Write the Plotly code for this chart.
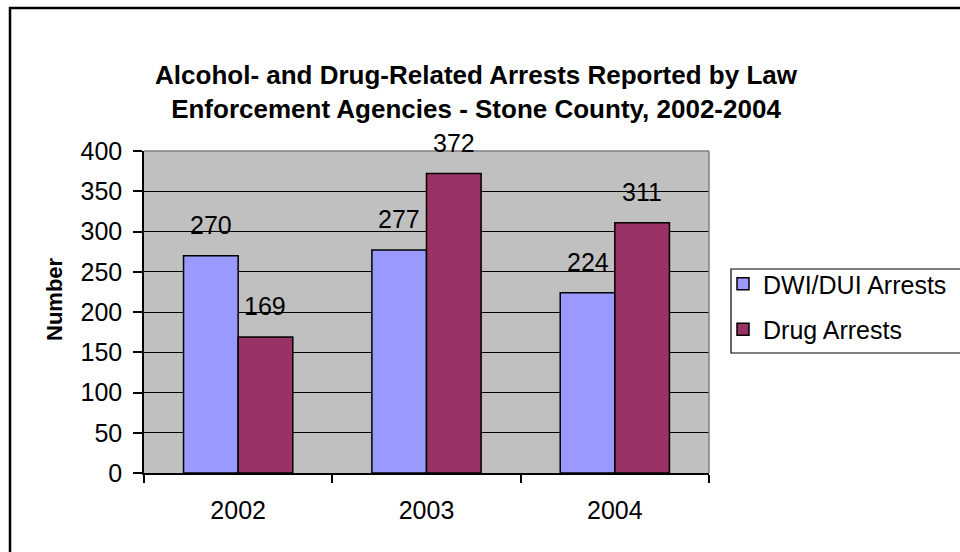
import plotly.graph_objects as go

# Arrest counts by year
years = ["2002", "2003", "2004"]
dwi_dui = [270, 277, 224]
drug = [169, 372, 311]
series_names = ["DWI/DUI Arrests", "Drug Arrests"]
y_ticks = [0, 50, 100, 150, 200, 250, 300, 350, 400]

FONT = "Liberation Sans, Arial, sans-serif"
W, H = 960, 552
L, R, T, B = 144, 251, 151, 79
PW, PH = W - L - R, H - T - B


def px_x(px):
    return (px - L) / PW


def px_y(py):
    return (H - B - py) / PH


fig = go.Figure()
colors = ["#9999FF", "#993366"]
for name, vals, col in zip(series_names, [dwi_dui, drug], colors):
    fig.add_trace(go.Bar(
        x=years, y=vals, name=name, legendgroup=name,
        marker=dict(color=col, line=dict(color="black", width=1.5)),
        hoverinfo="x+y+name",
    ))

# value labels above each bar (x given as category index)
BARGAP = 0.42
bar_px = PW / len(years) * (1 - BARGAP) / 2
annotations = []
for i, vals in enumerate([dwi_dui, drug]):
    shift = (-0.5 if i == 0 else 0.5) * bar_px
    for j, v in enumerate(vals):
        annotations.append(dict(
            x=j, y=v, xref="x", yref="y", text=str(v), showarrow=False,
            xshift=shift, yshift=15, yanchor="bottom",
            font=dict(family=FONT, size=25, color="black"),
        ))

annotations.append(dict(
    x=px_x(54), y=px_y(299), xref="paper", yref="paper", text="<b>Number</b>",
    textangle=-90, showarrow=False, xanchor="center", yanchor="middle",
    font=dict(family=FONT, size=22, color="black"),
))

shapes = [
    # outer chart frame
    dict(type="rect", xref="paper", yref="paper",
         x0=px_x(10), x1=px_x(985), y0=px_y(575), y1=px_y(8),
         line=dict(color="black", width=2.5), layer="below"),
    # plot area border (top and right)
    dict(type="line", xref="paper", yref="paper", x0=0, x1=1, y0=1, y1=1,
         line=dict(color="#808080", width=1.5), layer="above"),
    dict(type="line", xref="paper", yref="paper", x0=1, x1=1, y0=0, y1=1,
         line=dict(color="#808080", width=1.5), layer="above"),
    # legend box
    dict(type="rect", xref="paper", yref="paper",
         x0=px_x(731), x1=px_x(990), y0=px_y(353), y1=px_y(269),
         fillcolor="white", line=dict(color="black", width=1.2),
         layer="above"),
]

fig.update_layout(
    width=W, height=H,
    margin=dict(l=L, r=R, t=T, b=B, autoexpand=False),
    paper_bgcolor="white", plot_bgcolor="#C0C0C0",
    font=dict(family=FONT, size=25, color="black"),
    barmode="group", bargap=BARGAP, bargroupgap=0,
    title=dict(
        text="<b>Alcohol- and Drug-Related Arrests Reported by Law<br>"
             "Enforcement Agencies - Stone County, 2002-2004</b>",
        x=476 / W, xanchor="center", y=1 - 84 / H, yanchor="middle",
        font=dict(family=FONT, size=26, color="black"),
    ),
    xaxis=dict(
        type="category", range=[-0.5, len(years) - 0.5], automargin=False,
        showline=True, linecolor="black", linewidth=1.5,
        ticks="outside", ticklen=8, tickcolor="black", tickwidth=1.5,
        tickson="boundaries", ticklabelstandoff=14, showgrid=False,
        tickangle=0, tickfont=dict(family=FONT, size=25),
    ),
    yaxis=dict(
        range=[0, 400], tickvals=y_ticks, automargin=False,
        showline=True, linecolor="black",
        linewidth=1.5, ticks="outside", ticklen=9, tickcolor="black",
        tickwidth=1.5, showgrid=True, gridcolor="black", gridwidth=1,
        zeroline=False, ticklabelstandoff=6,
        tickfont=dict(family=FONT, size=25),
    ),
    legend=dict(
        x=px_x(723), xanchor="left", y=px_y(261), yanchor="top",
        bgcolor="rgba(0,0,0,0)", borderwidth=0,
        font=dict(family=FONT, size=25), traceorder="grouped",
        tracegroupgap=10,
    ),
    showlegend=True,
    annotations=annotations,
    shapes=shapes,
)

fig.write_html("out.html")
